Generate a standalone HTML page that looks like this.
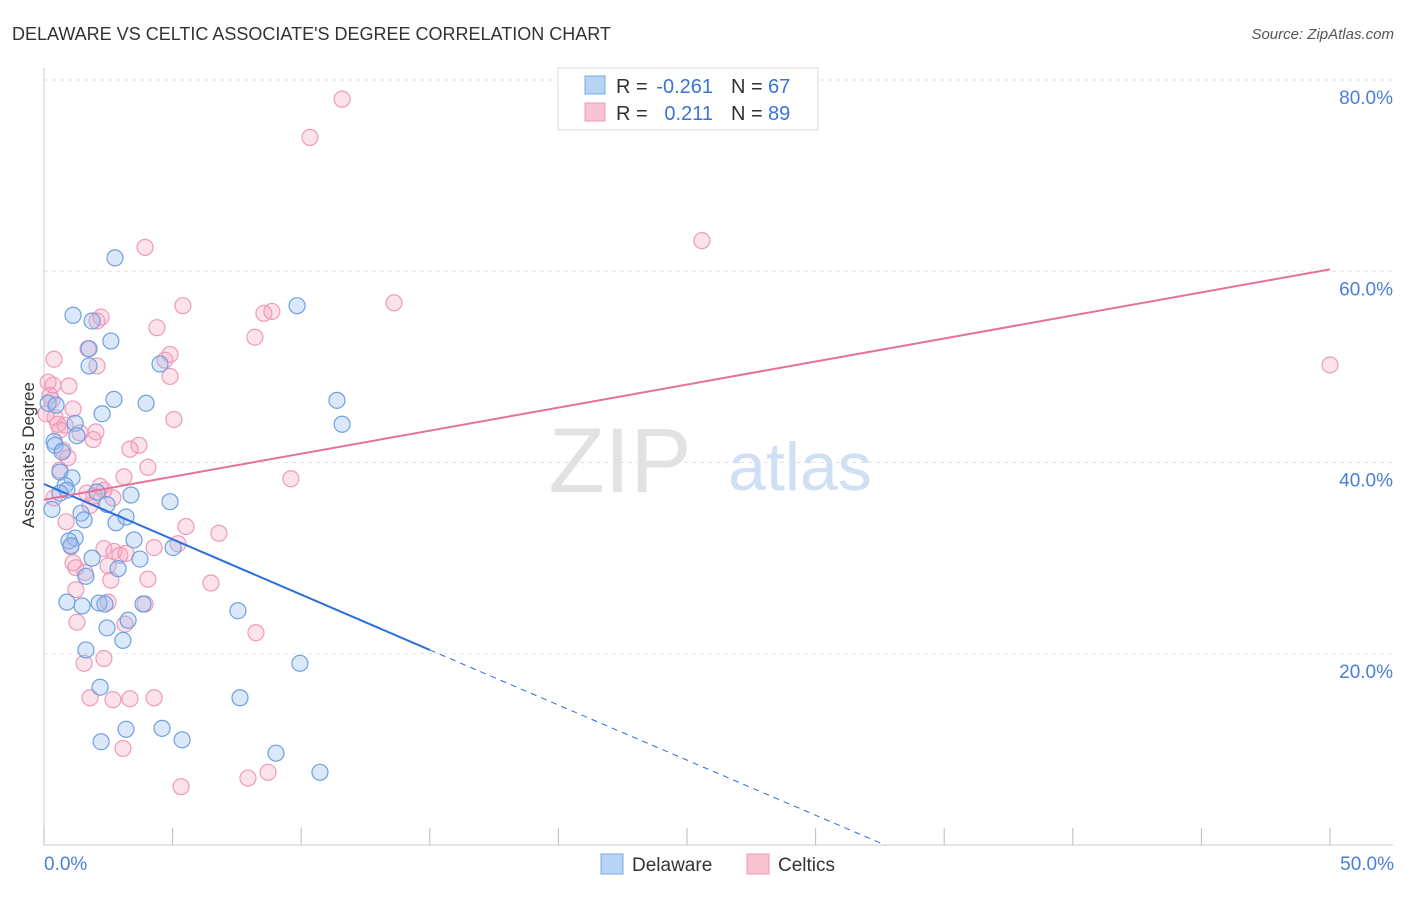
<!DOCTYPE html>
<html><head><meta charset="utf-8"><style>
body{margin:0;background:#fff;font-family:"Liberation Sans",sans-serif;}
svg text{font-family:"Liberation Sans",sans-serif;}
</style></head><body>
<svg id="c" width="1406" height="892" xmlns="http://www.w3.org/2000/svg">
<text x="12" y="40" font-size="18" fill="#333">DELAWARE VS CELTIC ASSOCIATE'S DEGREE CORRELATION CHART</text>
<text x="1394" y="39" font-size="15" fill="#555" font-style="italic" text-anchor="end">Source: ZipAtlas.com</text>
<text x="620" y="492" font-size="92" fill="#e2e2e2" font-family="Liberation Serif" text-anchor="middle">ZIP</text>
<text x="800" y="490" font-size="68" fill="#cfe0f5" text-anchor="middle">atlas</text>
<text transform="translate(34,455) rotate(-90)" font-size="17" fill="#333" text-anchor="middle">Associate's Degree</text>
<g id="grid"></g><g id="pts"></g><g id="lines"></g>
<g>
<rect x="558" y="68" width="260" height="62" fill="#fff" stroke="#ddd"/>
<rect x="585" y="76" width="20" height="18" fill="#b8d4f5" stroke="#7aa8e2"/>
<rect x="585" y="103" width="20" height="18" fill="#f8c4d4" stroke="#ee9ab6"/>
<text x="616" y="93" font-size="20" fill="#333">R =</text>
<text x="713" y="93" font-size="20" fill="#3a74d4" text-anchor="end">-0.261</text>
<text x="731" y="93" font-size="20" fill="#333">N =</text>
<text x="768" y="93" font-size="20" fill="#3a74d4">67</text>
<text x="616" y="120" font-size="20" fill="#333">R =</text>
<text x="713" y="120" font-size="20" fill="#3a74d4" text-anchor="end">0.211</text>
<text x="731" y="120" font-size="20" fill="#333">N =</text>
<text x="768" y="120" font-size="20" fill="#3a74d4">89</text>
</g>
<g>
<rect x="601" y="854" width="22" height="20" fill="#b8d4f5" stroke="#7aa8e2"/>
<text x="632" y="871" font-size="19" fill="#333">Delaware</text>
<rect x="747" y="854" width="22" height="20" fill="#f8c4d4" stroke="#ee9ab6"/>
<text x="778" y="871" font-size="19" fill="#333">Celtics</text>
</g>
</svg>
<script>
const yTicks=[20,40,60,80];
const yTickLabels=["20.0%","40.0%","60.0%","80.0%"];
const xTickVals=[0,5,10,15,20,25,30,35,40,45,50];
const delX=[2.76,1.13,1.87,2.60,1.75,1.75,4.51,2.72,3.97,2.26,11.39,11.59,9.84,0.16,0.47,1.21,1.28,0.39,0.43,0.70,0.62,1.09,0.82,0.89,0.62,2.06,3.38,4.90,0.31,1.44,2.45,1.56,2.80,3.19,1.21,0.97,1.05,3.50,1.87,3.73,5.02,1.63,2.88,0.89,1.48,2.14,2.37,3.85,3.27,7.54,2.45,3.07,1.63,9.95,2.18,7.62,3.19,4.59,2.22,5.37,9.02,10.73];
const delY=[61.4,55.4,54.8,52.7,51.9,50.1,50.3,46.6,46.2,45.1,46.5,44.0,56.4,46.2,46.0,44.1,42.8,42.2,41.8,41.1,39.0,38.4,37.6,37.1,36.8,36.9,36.6,35.9,35.1,34.7,35.6,34.0,33.7,34.3,32.1,31.8,31.3,31.9,30.0,29.9,31.1,28.1,28.9,25.4,25.0,25.3,25.2,25.2,23.5,24.5,22.7,21.4,20.4,19.0,16.5,15.4,12.1,12.2,10.8,11.0,9.6,7.6];
const celX=[11.59,10.34,25.58,3.93,13.61,5.40,8.55,8.86,2.22,2.06,4.39,8.20,1.71,4.90,4.70,2.06,4.90,0.39,0.16,0.35,0.97,0.23,0.31,1.13,0.43,5.05,0.54,0.82,2.02,1.91,3.69,3.34,0.74,0.93,4.04,3.11,9.60,2.18,2.33,1.67,1.94,2.68,0.39,1.79,0.86,5.52,6.80,1.05,4.28,2.33,2.72,2.95,3.19,5.21,1.13,1.24,2.49,1.59,4.04,2.60,6.49,1.24,2.49,3.93,1.28,3.15,8.24,1.56,2.33,1.79,2.68,3.34,4.28,3.07,7.93,8.71,5.33,50.0,0.62,1.40,0.08,0.62];
const celY=[78.0,74.0,63.2,62.5,56.7,56.4,55.6,55.8,55.2,54.8,54.1,53.1,51.9,51.3,50.7,50.1,49.0,50.8,48.4,48.1,48.0,47.0,46.5,45.6,44.7,44.5,44.0,43.9,43.2,42.4,41.8,41.4,41.3,40.5,39.5,38.5,38.3,37.5,37.1,36.8,36.5,36.3,36.3,35.5,33.8,33.3,32.6,31.2,31.1,31.0,30.7,30.3,30.5,31.5,29.5,29.0,29.2,28.5,27.8,27.7,27.4,26.7,25.4,25.2,23.3,23.1,22.2,19.0,19.5,15.4,15.2,15.3,15.4,10.1,7.0,7.6,6.1,50.2,43.4,43.1,45.1,39.2];
const delTrend=[37.75,20.4,15,32.7];
const celTrend=[36.1,60.2];
const NS="http://www.w3.org/2000/svg";
const X=v=>44+v*25.72, Y=v=>845-v*9.5625;
function mk(p,t,a){const e=document.createElementNS(NS,t);for(const k in a)e.setAttribute(k,a[k]);p.appendChild(e);return e;}
const grid=document.getElementById('grid');
yTicks.forEach((t,i)=>{
 const l=mk(grid,'line',{x1:44,x2:1393,y1:Y(t),y2:Y(t),stroke:'#e2e2e2','stroke-dasharray':'4,4'});
 
 
 const tx=mk(grid,'text',{x:1393,y:Y(t)+24,'font-size':19,fill:'#4a7fd6','text-anchor':'end'});tx.textContent=yTickLabels[i];
 
 
});
mk(grid,'line',{x1:44,x2:44,y1:68,y2:845,stroke:'#ccc'});
mk(grid,'line',{x1:44,x2:1393,y1:845,y2:845,stroke:'#ccc'});
xTickVals.forEach(v=>{const t=mk(grid,'line',{x1:X(v),x2:X(v),y1:828,y2:845,stroke:'#bbb'});
 
 });
const x0=mk(grid,'text',{x:44,y:870,'font-size':19,fill:'#4a7fd6'});x0.textContent='0.0%';


const x1=mk(grid,'text',{x:1394,y:870,'font-size':19,fill:'#4a7fd6','text-anchor':'end'});x1.textContent='50.0%';


const pts=document.getElementById('pts');
celX.forEach((v,i)=>{const c=mk(pts,'circle',{cx:X(v),cy:Y(celY[i]),r:8,fill:'rgba(245,160,190,0.3)',stroke:'#ef9ab8','stroke-width':1.2});
 
 });
delX.forEach((v,i)=>{const c=mk(pts,'circle',{cx:X(v),cy:Y(delY[i]),r:8,fill:'rgba(150,190,240,0.35)',stroke:'#6fa0e0','stroke-width':1.2});
 
 });
const L=document.getElementById('lines');
const slope=(delTrend[1]-delTrend[0])/15;
const b1=mk(L,'line',{x1:X(0),y1:Y(delTrend[0]),x2:X(delTrend[2]),y2:Y(delTrend[0]+slope*delTrend[2]),stroke:'#2a6fdb','stroke-width':2});


const b2=mk(L,'line',{x1:X(delTrend[2]),y1:Y(delTrend[0]+slope*delTrend[2]),x2:X(delTrend[3]),y2:Y(0),stroke:'#2a6fdb','stroke-width':1,'stroke-dasharray':'6,5'});


const p1=mk(L,'line',{x1:X(0),y1:Y(celTrend[0]),x2:X(50),y2:Y(celTrend[1]),stroke:'#e8719a','stroke-width':2});


</script>
</body></html>
